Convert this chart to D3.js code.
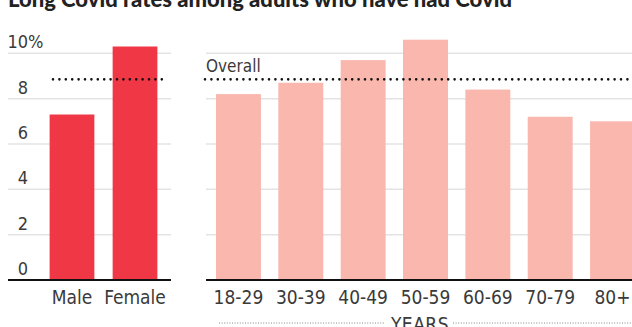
<!DOCTYPE html>
<html><head><meta charset="utf-8">
<script src="https://cdn.jsdelivr.net/npm/d3@7"></script>
<style>
html,body{margin:0;padding:0;background:#fff;}
svg{display:block;}
.lab{font-family:"Liberation Sans Narrow","DejaVu Sans Condensed","Roboto Condensed",sans-serif;fill:#3a3a3a;}
</style></head>
<body>
<script>
const title = "Long Covid rates among adults who have had Covid";
const sexCategories = ["Male", "Female"];
const sexValues = [7.3, 10.3];
const ageCategories = ["18-29", "30-39", "40-49", "50-59", "60-69", "70-79", "80+"];
const ageValues = [8.2, 8.7, 9.7, 10.6, 8.4, 7.2, 7.0];
const overall = 8.85;
const yTicks = [0, 2, 4, 6, 8, 10];
const overallLabel = "Overall";
const axisTitle = "YEARS";

const W = 632, H = 327;
const svg = d3.select("body").append("svg").attr("width", W).attr("height", H);

const y = d3.scaleLinear().domain([0, 10]).range([280, 53.3]);

const xL = d3.scaleBand().domain(sexCategories).range([36, 171]).paddingInner(0.29).paddingOuter(0.216);
const xR = d3.scaleBand().domain(ageCategories).range([206, 645]).paddingInner(0.279).paddingOuter(0.16);

// title
svg.append("text").attr("x", 8).attr("y", 7)
  .attr("font-family", "Lato, 'Liberation Sans', sans-serif").attr("font-weight", 900)
  .attr("font-size", 22).attr("fill", "#222").text(title);

// gridlines
const panels = [[8, 171], [206, 632]];
panels.forEach(([a, b]) => {
  svg.append("g").selectAll("line").data(yTicks.filter(d => d > 0)).join("line")
    .attr("x1", a).attr("x2", b).attr("y1", d => y(d)).attr("y2", d => y(d))
    .attr("stroke", "#e3e3e3").attr("stroke-width", 1.5);
});

// y tick labels
const yl = svg.append("g").attr("class", "lab").attr("font-size", 18);
yl.selectAll("text").data(yTicks).join("text")
  .attr("x", 28).attr("y", d => y(d) - 5).attr("text-anchor", "end").text(d => d);
yl.append("text").attr("x", 28).attr("y", y(10) - 5).text("%");

// bars
svg.append("g").selectAll("rect").data(sexCategories).join("rect")
  .attr("x", d => xL(d)).attr("width", xL.bandwidth())
  .attr("y", (d, i) => y(sexValues[i])).attr("height", (d, i) => y(0) - y(sexValues[i]))
  .attr("fill", "#ef3745");
svg.append("g").selectAll("rect").data(ageCategories).join("rect")
  .attr("x", d => xR(d)).attr("width", xR.bandwidth())
  .attr("y", (d, i) => y(ageValues[i])).attr("height", (d, i) => y(0) - y(ageValues[i]))
  .attr("fill", "#f9b7ad");

// overall dotted lines
[[53, 168], [205, 634]].forEach(([a, b]) => {
  svg.append("line").attr("x1", a).attr("x2", b).attr("y1", y(overall)).attr("y2", y(overall))
    .attr("stroke", "#111").attr("stroke-width", 2.6).attr("stroke-linecap", "round")
    .attr("stroke-dasharray", "0 6.4");
});
svg.append("text").attr("class", "lab").attr("x", 206).attr("y", 72)
  .attr("font-size", 17).text(overallLabel);

// baselines
panels.forEach(([a, b]) => {
  svg.append("line").attr("x1", a).attr("x2", b).attr("y1", y(0)).attr("y2", y(0))
    .attr("stroke", "#111").attr("stroke-width", 2);
});

// x labels
svg.append("g").attr("class", "lab").attr("font-size", 19)
  .selectAll("text").data(sexCategories).join("text")
  .attr("x", d => xL(d) + xL.bandwidth() / 2).attr("y", 304).attr("text-anchor", "middle").text(d => d);
svg.append("g").attr("class", "lab").attr("font-size", 19)
  .selectAll("text").data(ageCategories).join("text")
  .attr("x", d => xR(d) + xR.bandwidth() / 2).attr("y", 304).attr("text-anchor", "middle").text(d => d);

// YEARS label with dotted leaders
svg.append("text").attr("class", "lab").attr("x", 420).attr("y", 331).attr("text-anchor", "middle")
  .attr("font-size", 19).attr("letter-spacing", 0.5).text(axisTitle);
[[219, 384], [453, 634]].forEach(([a, b]) => {
  svg.append("line").attr("x1", a).attr("x2", b).attr("y1", 323).attr("y2", 323)
    .attr("stroke", "#888").attr("stroke-width", 1).attr("stroke-dasharray", "1 1.6");
});
</script>
</body></html>
